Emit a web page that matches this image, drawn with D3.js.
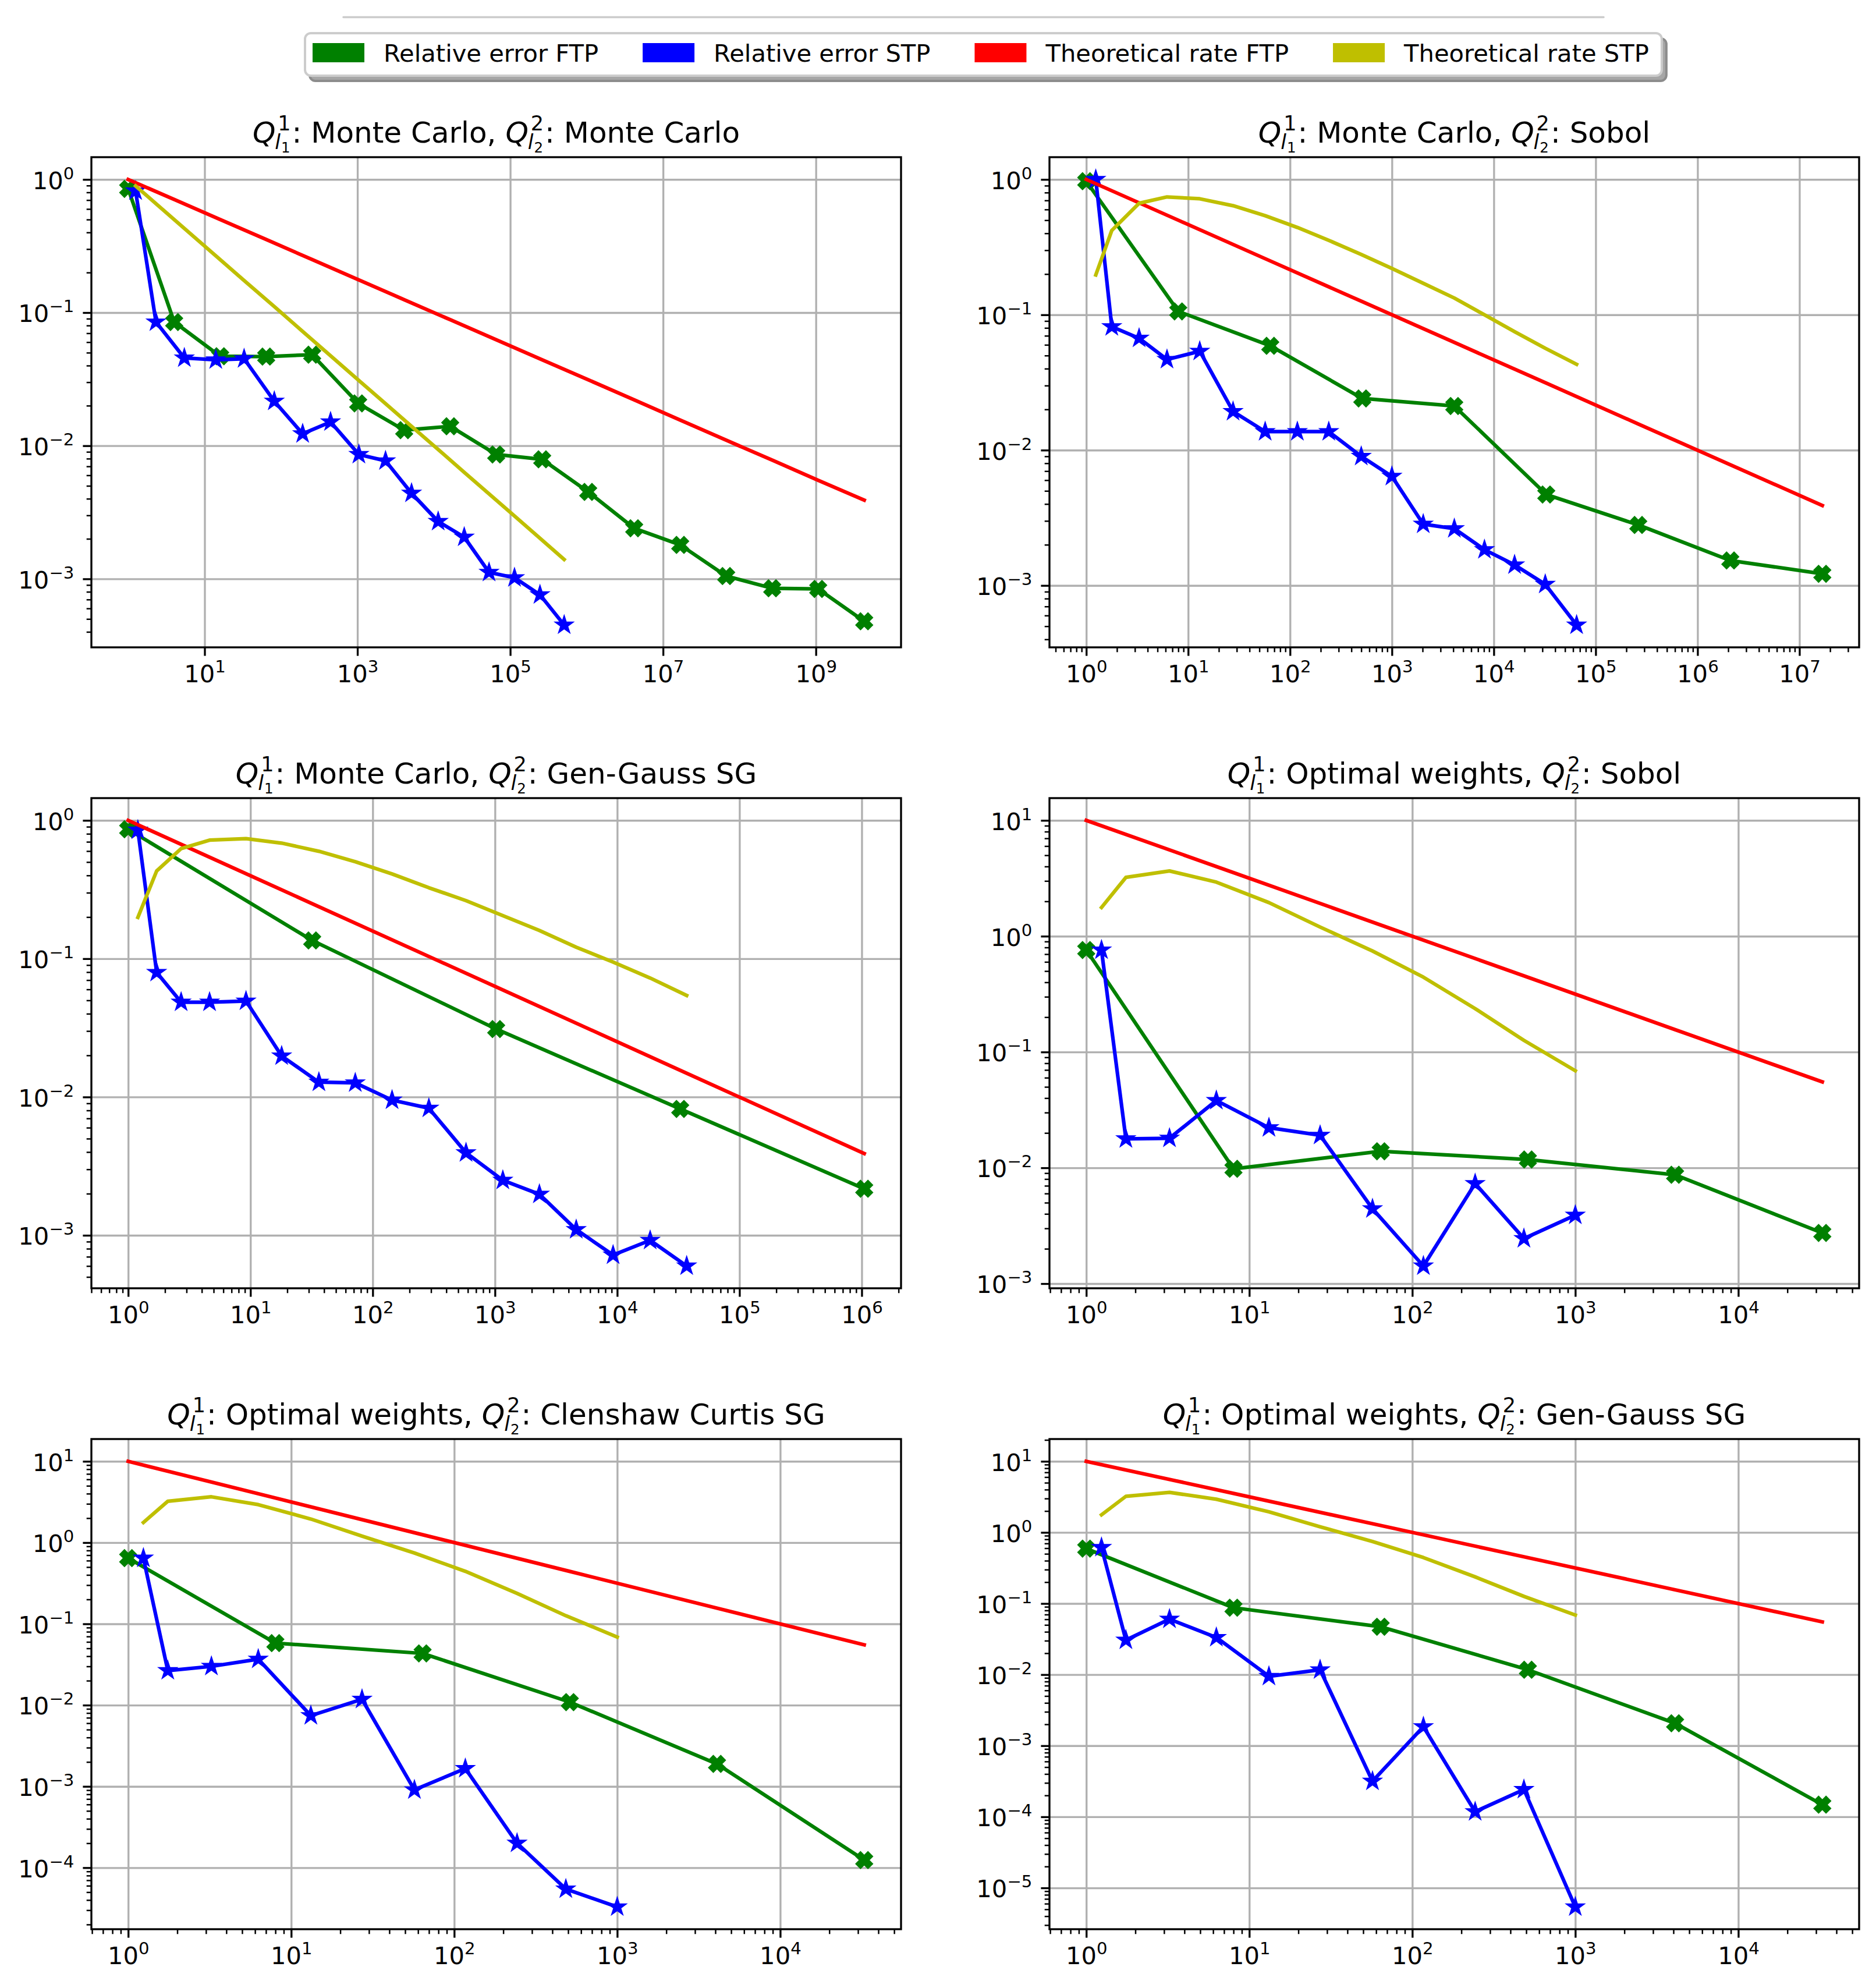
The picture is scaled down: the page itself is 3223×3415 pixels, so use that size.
<!DOCTYPE html>
<html>
<head>
<meta charset="utf-8">
<script src="https://cdn.jsdelivr.net/npm/d3@7"></script>
<style>
  body { margin: 0; background: #fff; }
  svg { display: block; font-family: "DejaVu Sans", sans-serif; }
</style>
</head>
<body>
<div id="chart"></div>
<script>
// ---- data ----
const legendLabels = ['Relative error FTP', 'Relative error STP', 'Theoretical rate FTP', 'Theoretical rate STP'];
const titleQ1 = ['Monte Carlo', 'Monte Carlo', 'Monte Carlo', 'Optimal weights', 'Optimal weights', 'Optimal weights'];
const titleQ2 = ['Monte Carlo', 'Sobol', 'Gen-Gauss SG', 'Sobol', 'Clenshaw Curtis SG', 'Gen-Gauss SG'];

// panel 1: Monte Carlo / Monte Carlo
const costFtp1 = [1, 4, 16, 64, 256, 1024, 4096, 16384, 65536, 262144, 1048576, 4194304, 16777216, 67108864, 268435456, 1073741824, 4294967296];
const errFtp1 = [0.85, 0.085, 0.047, 0.0467, 0.0483, 0.0208, 0.0131, 0.014, 0.0086, 0.0079, 0.0045, 0.0024, 0.0018, 0.00105, 0.00085, 0.00084, 0.00048];
const rateFtp1 = [1, 0.707, 0.5, 0.354, 0.25, 0.177, 0.125, 0.0884, 0.0625, 0.0442, 0.0313, 0.0221, 0.0156, 0.011, 0.0078, 0.0055, 0.0039];
const costStp1 = [1.25, 2.31, 5.43, 14, 32.9, 81.7, 192, 445, 1045, 2333, 5110, 11400, 25000, 52800, 113700, 245000, 508000];
const errStp1 = [0.82, 0.085, 0.0456, 0.0442, 0.045, 0.0216, 0.0123, 0.0151, 0.0086, 0.0077, 0.0044, 0.0027, 0.00206, 0.00112, 0.00102, 0.00076, 0.00045];
const rateStp1 = [0.894, 0.658, 0.429, 0.267, 0.174, 0.111, 0.0722, 0.0474, 0.0309, 0.0207, 0.014, 0.00937, 0.00632, 0.00435, 0.00297, 0.00202, 0.0014];

// panel 2: Monte Carlo / Sobol
const costFtp2 = [1, 8, 64, 512, 4096, 32768, 262144, 2097152, 16777216];
const errFtp2 = [0.97, 0.106, 0.059, 0.0241, 0.0212, 0.0047, 0.0028, 0.00153, 0.00122];
const rateFtp2 = [1, 0.5, 0.25, 0.125, 0.0625, 0.03125, 0.0156, 0.0078, 0.0039];
const costStp2 = [1.24, 1.78, 3.3, 6.2, 13, 27.6, 57, 118, 240, 500, 1000, 2030, 4100, 8100, 16000, 32000, 65000];
const errStp2 = [1.0, 0.0817, 0.0671, 0.0468, 0.0538, 0.0193, 0.0137, 0.0137, 0.0137, 0.009, 0.0064, 0.00284, 0.00263, 0.00184, 0.00142, 0.00102, 0.00051];
const rateStp2 = [0.197, 0.42, 0.667, 0.743, 0.72, 0.64, 0.54, 0.442, 0.355, 0.279, 0.22, 0.171, 0.133, 0.1, 0.075, 0.0566, 0.0431];

// panel 3: Monte Carlo / Gen-Gauss SG
const costFtp3 = [1, 32, 1024, 32768, 1048576];
const errFtp3 = [0.862, 0.1355, 0.031, 0.0082, 0.00217];
const rateFtp3 = [1, 0.25, 0.0625, 0.0156, 0.0039];
const costStp3 = [1.2, 1.71, 2.71, 4.63, 9.2, 18, 36.3, 72, 144, 288, 580, 1160, 2310, 4620, 9250, 18600, 37000];
const errStp3 = [0.85, 0.0796, 0.0485, 0.0485, 0.0494, 0.0198, 0.0128, 0.01265, 0.0095, 0.0083, 0.00395, 0.0025, 0.00198, 0.0011, 0.00072, 0.00092, 0.0006];
const rateStp3 = [0.199, 0.431, 0.625, 0.72, 0.738, 0.685, 0.598, 0.503, 0.41, 0.326, 0.263, 0.205, 0.16, 0.121, 0.0946, 0.0725, 0.0542];

// panels 4-6 (optimal weights) share costs and theoretical rates
const costFtpOW = [1, 8, 64, 512, 4096, 32768];
const rateFtpOW = [10, 3.54, 1.25, 0.442, 0.156, 0.0552];
const costStpOW = [1.24, 1.75, 3.24, 6.28, 13.2, 27.2, 57, 117, 243, 484, 1000];
const rateStpOW = [1.77, 3.22, 3.66, 2.93, 1.95, 1.2, 0.745, 0.443, 0.237, 0.126, 0.0689];

const errFtp4 = [0.76, 0.0098, 0.0139, 0.0118, 0.0087, 0.00274];
const errStp4 = [0.76, 0.0178, 0.018, 0.0381, 0.0222, 0.0191, 0.00443, 0.00142, 0.00731, 0.00245, 0.0039];
const errFtp5 = [0.644, 0.058, 0.0433, 0.0109, 0.00189, 0.000124];
const errStp5 = [0.644, 0.0266, 0.03, 0.0368, 0.00743, 0.0118, 0.000906, 0.00166, 0.0002, 0.0000546, 0.0000329];
const errFtp6 = [0.592, 0.0873, 0.0471, 0.0117, 0.00207, 0.000148];
const errStp6 = [0.614, 0.0306, 0.0603, 0.0333, 0.00946, 0.0117, 0.000317, 0.00185, 0.000118, 0.000242, 0.0000054];

const panels = [
  { xF: costFtp1, eF: errFtp1, rF: rateFtp1, xS: costStp1, eS: errStp1, rS: rateStp1 },
  { xF: costFtp2, eF: errFtp2, rF: rateFtp2, xS: costStp2, eS: errStp2, rS: rateStp2 },
  { xF: costFtp3, eF: errFtp3, rF: rateFtp3, xS: costStp3, eS: errStp3, rS: rateStp3 },
  { xF: costFtpOW, eF: errFtp4, rF: rateFtpOW, xS: costStpOW, eS: errStp4, rS: rateStpOW },
  { xF: costFtpOW, eF: errFtp5, rF: rateFtpOW, xS: costStpOW, eS: errStp5, rS: rateStpOW },
  { xF: costFtpOW, eF: errFtp6, rF: rateFtpOW, xS: costStpOW, eS: errStp6, rS: rateStpOW }
];

// ---- styling / layout ----
const colors = ['#008000', '#0000ff', '#ff0000', '#bfbf00'];
const W = 3223, H = 3415;
const colX = [157, 1803], rowY = [270, 1371, 2472];
const axW = 1391, axH = 842;
const tickFont = 41.67, supFont = 29.2;

const svg = d3.select('#chart').append('svg')
  .attr('width', W).attr('height', H)
  .attr('viewBox', [0, 0, W, H]);
svg.append('rect').attr('width', W).attr('height', H).attr('fill', '#fff');

const lineGen = (x, y) => d3.line().x(d => x(d[0])).y(d => y(d[1]));

// matplotlib 'X' (filled x) and '*' markers, markersize 6pt at 300 dpi
const xMarker = [[-1, -2], [0, -1], [1, -2], [2, -1], [1, 0], [2, 1], [1, 2], [0, 1], [-1, 2], [-2, 1], [-1, 0], [-2, -1]]
  .map(p => [p[0] * 6.4, p[1] * 6.4]);
const starMarker = d3.range(10).map(i => {
  const a = Math.PI * 2 * i / 10 - Math.PI / 2;
  const r = (i % 2 === 0 ? 1 : 0.381966) * 12.5;
  return [r * Math.cos(a), r * Math.sin(a)];
});
const polyPath = pts => 'M' + pts.map(p => p.join(',')).join('L') + 'Z';

function logPad(vals) {
  const lo = Math.log10(d3.min(vals)), hi = Math.log10(d3.max(vals));
  const pad = (hi - lo) * 0.05;
  return [lo - pad, hi + pad];
}

function tickLabel(sel) {
  sel.each(function (d) {
    const t = d3.select(this);
    const e = Math.round(Math.log10(d));
    t.text(null);
    t.append('tspan').text('10');
    t.append('tspan').attr('dy', -17).attr('font-size', supFont)
      .text(e < 0 ? '\u2212' + (-e) : String(e));
  });
}

function drawTitle(g, cx, base, q1, q2) {
  const t = g.append('g');
  let cur = 0;
  const put = (txt, size, dy, italic, xPos) => {
    const el = t.append('text')
      .attr('x', xPos).attr('y', dy)
      .attr('font-size', size)
      .attr('font-style', italic ? 'italic' : 'normal')
      .style('white-space', 'pre')
      .attr('fill', '#000')
      .text(txt);
    return el.node().getComputedTextLength();
  };
  const qTerm = n => {
    cur += put('Q', 50, 0, true, cur);
    const s = cur + 2;
    const w1 = put(n, 35, -21, false, s + 2);
    const wl = put('l', 35, 11, true, s - 3);
    const w2 = put(n, 24.5, 17, false, s - 3 + wl + 1);
    cur = s + Math.max(w1 + 2, wl + w2 - 2) + 2;
  };
  qTerm('1');
  cur += put(': ' + q1 + ', ', 50, 0, false, cur);
  qTerm('2');
  cur += put(': ' + q2, 50, 0, false, cur);
  t.attr('transform', `translate(${cx - cur / 2},${base})`);
}

panels.forEach((p, i) => {
  const left = colX[i % 2], top = rowY[Math.floor(i / 2)];
  const g = svg.append('g').attr('transform', `translate(${left},${top})`);

  const [xlo, xhi] = logPad(p.xF.concat(p.xS));
  const [ylo, yhi] = logPad(p.eF.concat(p.eS, p.rF, p.rS));
  const x = d3.scaleLog().domain([10 ** xlo, 10 ** xhi]).range([0, axW]);
  const y = d3.scaleLog().domain([10 ** ylo, 10 ** yhi]).range([axH, 0]);

  // major / minor tick values (matplotlib LogLocator style)
  const xDec = Math.floor(xhi) - Math.ceil(xlo);
  const stride = xDec > 8 ? 2 : 1;
  const xStart = Math.floor(xlo);
  const xMajor = d3.range(Math.ceil(xlo), Math.floor(xhi) + 1)
    .filter(k => (k - xStart) % stride === 0).map(k => 10 ** k);
  const yMajor = d3.range(Math.ceil(ylo), Math.floor(yhi) + 1).map(k => 10 ** k);
  const minors = (lo, hi) => {
    const out = [];
    for (let k = Math.floor(lo); k <= Math.ceil(hi); k++) {
      for (let m = 2; m <= 9; m++) {
        const v = m * 10 ** k;
        if (Math.log10(v) >= lo && Math.log10(v) <= hi) out.push(v);
      }
    }
    return out;
  };
  const xMinor = stride === 1 ? minors(xlo, xhi) : [];
  const yMinor = minors(ylo, yhi);

  // grid
  g.append('g').attr('class', 'grid')
    .attr('transform', `translate(0,${axH})`)
    .call(d3.axisBottom(x).tickValues(xMajor).tickSize(-axH).tickFormat(''))
    .call(s => s.select('.domain').remove());
  g.append('g').attr('class', 'grid')
    .call(d3.axisLeft(y).tickValues(yMajor).tickSize(-axW).tickFormat(''))
    .call(s => s.select('.domain').remove());
  g.selectAll('.grid line').attr('stroke', '#b0b0b0').attr('stroke-width', 3.33);

  // data
  const clipId = 'clip' + i;
  g.append('clipPath').attr('id', clipId)
    .append('rect').attr('width', axW).attr('height', axH);
  const plot = g.append('g').attr('clip-path', `url(#${clipId})`);

  const series = [
    { xs: p.xF, ys: p.eF, c: colors[0], marker: xMarker },
    { xs: p.xS, ys: p.eS, c: colors[1], marker: starMarker },
    { xs: p.xF, ys: p.rF, c: colors[2], marker: null },
    { xs: p.xS, ys: p.rS, c: colors[3], marker: null }
  ];
  series.forEach(s => {
    const pts = s.xs.map((v, j) => [v, s.ys[j]]);
    plot.append('path')
      .attr('d', lineGen(x, y)(pts))
      .attr('fill', 'none')
      .attr('stroke', s.c)
      .attr('stroke-width', 6.25)
      .attr('stroke-linejoin', 'round')
      .attr('stroke-linecap', 'square');
    if (s.marker) {
      plot.selectAll(null).data(pts).enter().append('path')
        .attr('d', polyPath(s.marker))
        .attr('transform', d => `translate(${x(d[0])},${y(d[1])})`)
        .attr('fill', s.c)
        .attr('stroke', s.c)
        .attr('stroke-width', 4.17)
        .attr('stroke-linejoin', 'miter');
    }
  });

  // spines
  g.append('rect').attr('width', axW).attr('height', axH)
    .attr('fill', 'none').attr('stroke', '#000').attr('stroke-width', 3.33);

  // axes
  const xAxis = g.append('g').attr('transform', `translate(0,${axH})`)
    .call(d3.axisBottom(x).tickValues(xMajor).tickSize(14.6).tickPadding(15.6));
  xAxis.selectAll('.tick text').attr('dy', '0.71em').call(tickLabel);
  g.append('g').attr('class', 'minor').attr('transform', `translate(0,${axH})`)
    .call(d3.axisBottom(x).tickValues(xMinor).tickSize(8.3).tickFormat(''));

  const yAxis = g.append('g')
    .call(d3.axisLeft(y).tickValues(yMajor).tickSize(14.6).tickPadding(15));
  yAxis.selectAll('.tick text').attr('dy', '0.38em').call(tickLabel);
  g.append('g').attr('class', 'minor')
    .call(d3.axisLeft(y).tickValues(yMinor).tickSize(8.3).tickFormat(''));

  g.selectAll('.domain').remove();
  g.selectAll('g:not(.grid) > .tick line').attr('stroke', '#000').attr('stroke-width', 3.33);
  g.selectAll('.minor .tick line').attr('stroke-width', 2.5);
  g.selectAll('.tick text')
    .attr('font-size', tickFont)
    .attr('font-family', '"DejaVu Sans", sans-serif')
    .attr('fill', '#000');

  drawTitle(g, axW / 2, -25, titleQ1[i], titleQ2[i]);
});

// ---- figure legend ----
const leg = svg.append('g');
leg.append('line')
  .attr('x1', 590).attr('x2', 2755).attr('y1', 29.5).attr('y2', 29.5)
  .attr('stroke', '#cccccc').attr('stroke-width', 3.5).attr('stroke-linecap', 'round');
const boxX = 524, boxY = 57, boxH = 73;
const shadow = leg.append('rect');
const box = leg.append('rect');
const gap = 76;
let lx = 537;
legendLabels.forEach((lab, k) => {
  leg.append('rect')
    .attr('x', lx).attr('y', 74).attr('width', 89).attr('height', 33)
    .attr('fill', colors[k]);
  const t = leg.append('text')
    .attr('x', lx + 122).attr('y', 106)
    .attr('font-size', tickFont).attr('fill', '#000')
    .text(lab);
  lx = lx + 122 + t.node().getComputedTextLength() + gap;
});
const boxW = lx - gap + 22 - boxX;
shadow.attr('x', boxX + 8).attr('y', boxY + 9).attr('width', boxW).attr('height', boxH)
  .attr('rx', 10).attr('fill', '#a6a6a6').attr('stroke', '#8c8c8c').attr('stroke-width', 4);
box.attr('x', boxX).attr('y', boxY).attr('width', boxW).attr('height', boxH)
  .attr('rx', 10).attr('fill', '#fff').attr('stroke', '#cccccc').attr('stroke-width', 4);
</script>
</body>
</html>
